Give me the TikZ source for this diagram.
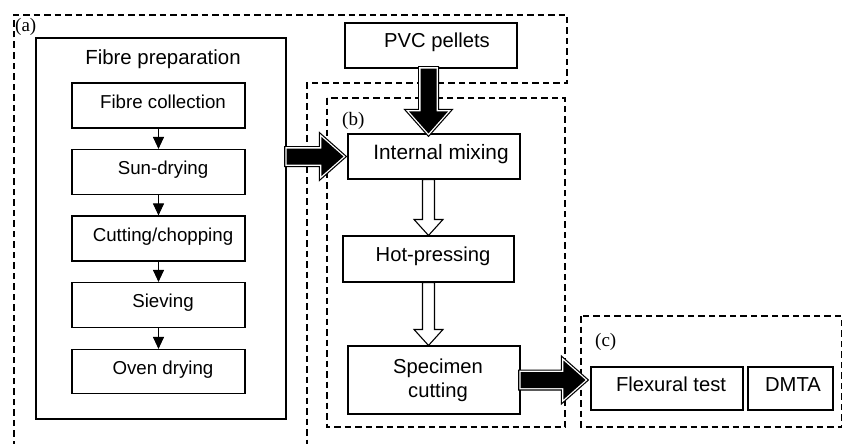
\documentclass[tikz,border=0pt]{standalone}
\usepackage{fontspec}
\setmainfont{Liberation Sans}
\newfontfamily\labfont{Liberation Serif}
\usetikzlibrary{arrows.meta,calc}
\begin{document}
\begin{tikzpicture}[x=1pt,y=1pt,
  box/.style={draw=black, line width=1.1pt, inner sep=0pt},
  txt/.style={inner sep=0pt, align=center},
  one/.style={text height=0.75em, text depth=0.25em},
  dashline/.style={draw=black, line width=1.2pt, dash pattern=on 6.5pt off 4pt},
  lab/.style={font=\labfont\fontsize{19}{22}\selectfont, inner sep=0pt},
  smallarr/.style={draw=black, line width=1pt, -{Triangle[width=11pt,length=12pt]}},
  fatA/.style={draw=black, line width=5pt, line join=miter, miter limit=10},
  fatB/.style={draw=white, line width=2.6pt, line join=miter, miter limit=10},
  fatC/.style={fill=black},
  whitearr/.style={draw=black, fill=white, line width=1.1pt, line join=miter}]

\newcommand\bx[8]{%
  \node[box, minimum width=#4pt, minimum height=#5pt] (#1) at (#2,-#3) {};
  \node[txt, one, font=\fontsize{#7}{24}\selectfont] (#1-t) at ([xshift=#6pt]#1.center) {#8};}
\newcommand\fatdown[2]{%
  \foreach \st in {fatA,fatB,fatC}{%
    \path[\st] ($(#1)+(-8,0)$) -- ($(#2)+(-8,22)$) -- ($(#2)+(-19.5,22)$) -- (#2)
      -- ($(#2)+(19.5,22)$) -- ($(#2)+(8,22)$) -- ($(#1)+(8,0)$) -- cycle;}}
\newcommand\fatright[2]{%
  \foreach \st in {fatA,fatB,fatC}{%
    \path[\st] ($(#1)+(0,8)$) -- ($(#2)+(-22,8)$) -- ($(#2)+(-22,19.5)$) -- (#2)
      -- ($(#2)+(-22,-19.5)$) -- ($(#2)+(-22,-8)$) -- ($(#1)+(0,-8)$) -- cycle;}}
\newcommand\whitedown[2]{%
  \path[whitearr] ($(#1)+(-6,0)$) -- ($(#2)+(-6,16)$) -- ($(#2)+(-14.5,16)$) -- (#2)
      -- ($(#2)+(14.5,16)$) -- ($(#2)+(6,16)$) -- ($(#1)+(6,0)$) -- cycle;}

% background and bounding box
\fill[white] (0,0) rectangle (843,-444);
\useasboundingbox (0,0) rectangle (843,-444);

% dashed regions
\draw[dashline] (14,-447) -- (14,-15) -- (567,-15) -- (567,-83) -- (307,-83) -- (307,-447);
\draw[dashline] (327,-98) rectangle (565,-427);
\draw[dashline] (581,-316) rectangle (841.5,-427);

% region labels
\node[lab, anchor=base west] (la) at (15,-32) {(a)};
\node[lab, anchor=base west] (lb) at (342,-125) {(b)};
\node[lab, anchor=base west] (lc) at (595,-346) {(c)};

% fibre preparation
\node[box, minimum width=250pt, minimum height=381pt] (prep) at (161,-228.5) {};
\node[txt, anchor=base, font=\fontsize{20.4}{24}\selectfont] (preptitle) at (163,-64) {Fibre preparation};
\bx{fc}{158.5}{105.5}{173}{45}{4.5}{18.7}{Fibre collection}
\bx{sd}{158.5}{172}{173}{45}{4.5}{18.7}{Sun-drying}
\bx{cc}{158.5}{238.5}{173}{45}{4.5}{18.7}{Cutting/chopping}
\bx{sv}{158.5}{305}{173}{45}{4.5}{18.7}{Sieving}
\bx{od}{158.5}{371.5}{173}{44}{4.5}{18.7}{Oven drying}
\draw[smallarr] (fc) -- (sd);
\draw[smallarr] (sd) -- (cc);
\draw[smallarr] (cc) -- (sv);
\draw[smallarr] (sv) -- (od);

% right column
\bx{pvc}{431}{45.5}{172}{45}{6}{20.2}{PVC pellets}
\bx{im}{434}{156.5}{172}{45}{7}{20.8}{Internal mixing}
\bx{hp}{428.5}{259}{171}{46}{4.5}{20.2}{Hot-pressing}
\node[box, minimum width=172pt, minimum height=68pt] (sc) at (434,-380) {};
\node[txt, font=\fontsize{20.2}{24}\selectfont] (sc-t) at ([xshift=4pt]sc.center) {Specimen\\cutting};
\bx{ft}{667}{388.5}{152}{43}{4}{20.2}{Flexural test}
\bx{dm}{790.5}{388.5}{85}{43}{2.5}{20.2}{DMTA}

% connector coordinates
\coordinate (pvcs) at (pvc.south -| hp.center);
\coordinate (imn) at (im.north -| hp.center);
\coordinate (ims) at (im.south -| hp.center);
\coordinate (prepe) at (prep.east |- im.west);
\coordinate (imw) at ([xshift=-4pt]im.west);
\coordinate (sce) at (sc.east);
\coordinate (ftw) at ([xshift=-5pt]sc.east -| ft.west);
\coordinate (hps) at (hp.south);
\coordinate (scn) at (sc.north -| hp.center);

% big arrows
\fatdown{pvcs}{imn}
\fatright{prepe}{imw}
\fatright{sce}{ftw}
\whitedown{ims}{hp.north}
\whitedown{hps}{scn}
\end{tikzpicture}
\end{document}
